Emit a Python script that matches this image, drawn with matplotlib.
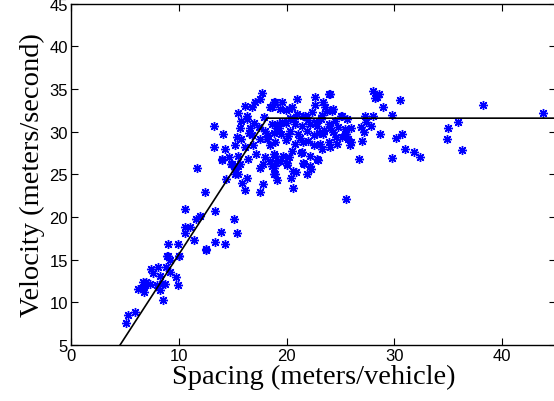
import matplotlib
matplotlib.use('Agg')
import matplotlib.pyplot as plt

# measured (spacing, velocity) samples
spacing = [
    5.1, 5.3, 5.9, 6.2, 6.6, 6.8, 6.7, 7.0, 7.3, 6.9, 7.4, 7.6, 8.1, 8.3, 8.0,
    8.4, 8.7, 8.3, 8.5, 8.8, 8.9, 9.2, 9.2, 9.7, 9.9, 10.0, 12.5,
    11.7, 12.4, 10.6, 13.4, 11.6, 12.0, 10.6, 11.0, 10.6, 11.4, 13.9, 15.4,
    15.1, 9.0, 9.9, 13.4, 14.3, 12.5, 9.0, 10.0, 14.4, 15.2, 14.8, 14.0, 15.5,
    17.5, 17.8, 16.1, 15.9, 16.3, 15.5, 15.2, 14.9, 15.7, 17.5, 17.8, 18.6,
    18.9, 19.1, 18.5,
    20.6, 20.4, 20.6, 20.9, 21.9, 21.6, 22.2, 22.9, 18.8, 18.8, 19.4, 20.0,
    25.5,
    28.0, 28.4, 28.6, 28.2, 30.5, 28.9, 27.3, 28.0, 29.8, 25.1, 25.6, 27.4,
    27.8, 26.9, 27.2, 26.0, 25.4, 28.7, 25.1, 25.7, 26.0, 25.9, 27.0, 30.7,
    30.1, 31.0, 31.8, 32.4, 29.8, 26.7,
    38.2, 43.8, 35.9, 35.0, 34.9, 36.3, 24.3, 24.0,
    22.6, 23.9, 23.4, 23.6, 22.4, 21.5, 23.3, 25.0, 18.8, 19.6, 20.2, 20.5,
    19.9, 19.4, 18.6, 19.1, 19.9, 20.8, 21.4, 22.2, 22.8, 23.9, 24.5, 25.4,
    18.8, 19.5, 20.3, 21.1, 21.9, 22.5, 23.4, 24.6, 25.5, 18.9, 19.9, 20.8,
    21.5, 22.5, 23.1, 23.9, 24.0, 23.3, 18.8, 19.7, 20.5, 21.4, 22.2, 22.8,
    21.5, 20.0, 19.2,
    17.7, 17.5, 17.1, 16.1, 16.8, 18.5, 18.9, 15.5, 16.3, 16.3, 15.8, 13.3,
    16.6, 17.4, 15.7, 14.1, 18.0, 18.6, 19.1, 15.4, 15.8, 16.8, 17.5, 18.2,
    13.3, 14.3, 15.2, 16.1, 16.9, 18.5, 14.7, 14.0, 15.5, 16.4, 17.2, 18.0,
    18.9, 19.0,
    20.3, 21.0, 21.8, 22.7, 23.5, 24.2, 20.1, 21.2, 22.0, 23.0, 24.0, 19.6,
    20.7, 21.7, 22.6, 23.7, 24.8, 20.2, 21.3, 22.3, 17.9, 18.3, 19.3, 21.0,
    22.0, 23.2, 24.3, 17.0, 16.5, 24.7,
]
velocity = [
    7.6, 8.5, 8.9, 11.6, 11.7, 11.2, 12.4, 12.4, 12.2, 12.0, 13.9, 13.4, 14.1,
    13.1, 12.0, 12.2, 12.2, 11.5, 10.3, 14.2, 15.4, 15.0, 13.6, 13.0, 12.0,
    15.4, 16.1,
    25.8, 22.9, 21.0, 20.7, 19.8, 20.1, 18.9, 18.8, 18.1, 17.3, 18.3, 18.1,
    19.8, 16.8, 16.8, 17.1, 16.8, 16.3, 15.4, 15.4, 24.5, 25.1, 26.2, 26.7,
    26.0,
    22.9, 23.9, 23.2, 24.0, 24.6, 25.1, 25.6, 26.2, 26.2, 25.8, 26.2, 26.0,
    25.1, 24.4, 26.6,
    23.4, 24.6, 25.4, 25.3, 25.0, 26.2, 26.0, 26.7, 25.1, 25.8, 26.6, 26.1,
    22.1,
    34.8, 34.1, 34.4, 34.0, 33.7, 32.9, 31.9, 31.9, 32.0, 31.9, 31.5, 31.1,
    30.7, 30.6, 30.0, 30.5, 29.8, 29.8, 29.4, 29.2, 28.8, 28.5, 28.9, 29.8,
    29.3, 28.0, 27.6, 27.1, 26.9, 26.8,
    33.2, 32.2, 31.2, 30.5, 29.2, 27.9, 32.7, 34.4,
    34.1, 34.4, 33.5, 32.9, 32.3, 31.8, 32.0, 31.9, 33.5, 33.5, 32.7, 32.9,
    32.5, 32.7, 32.9, 30.9, 31.0, 30.9, 30.7, 30.9, 30.7, 30.9, 31.3, 30.3,
    29.9, 29.8, 30.1, 29.8, 30.1, 29.6, 29.7, 29.4, 29.8, 28.8, 29.0, 28.6,
    28.8, 28.4, 28.6, 28.8, 28.2, 28.0, 27.4, 27.2, 27.8, 27.6, 27.2, 26.8,
    26.3, 26.4, 26.6,
    34.6, 33.9, 33.5, 33.0, 32.9, 32.9, 33.5, 32.2, 31.9, 31.5, 31.3, 30.7,
    30.5, 30.6, 30.4, 29.8, 30.1, 30.9, 30.5, 29.4, 29.2, 29.6, 29.2, 29.2,
    28.2, 28.0, 28.4, 28.2, 28.4, 28.4, 27.0, 26.8, 27.2, 26.8, 27.4, 27.0,
    27.2, 26.4,
    31.6, 32.1, 31.7, 31.2, 30.2, 32.4, 29.5, 29.3, 28.9, 29.9, 30.4, 31.2,
    31.5, 31.9, 33.1, 32.4, 30.6, 27.0, 27.5, 25.6, 31.7, 29.6, 30.4, 33.9,
    31.4, 31.5, 30.0, 31.0, 29.9, 28.6,
]

# piecewise linear fit through the data
fit_x = [4.55, 18.2, 45.0]
fit_y = [5.0, 31.6, 31.6]

fig = plt.figure(figsize=(5.54, 4.02), dpi=100)
ax = fig.add_axes([0.128, 0.139, 0.876, 0.849])

ax.plot(spacing, velocity, linestyle='none', marker=(8, 2, 0),
        markersize=6.5, markeredgewidth=1.0, color='#0000ff')
ax.plot(fit_x, fit_y, color='black', linewidth=1.2)

ax.set_xlim(0, 45)
ax.set_ylim(5, 45)
ax.set_xticks([0, 10, 20, 30, 40])
ax.set_yticks([5, 10, 15, 20, 25, 30, 35, 40, 45])
ax.tick_params(direction='in', top=True, right=True, length=5,
               labelsize=12, width=0.8, pad=2)
for lab in ax.get_xticklabels() + ax.get_yticklabels():
    lab.set_family('Liberation Sans')
for sp in ax.spines.values():
    sp.set_linewidth(1.0)

ax.set_xlabel('Spacing (meters/vehicle)', family='Liberation Serif',
              fontsize=20.5, labelpad=1)
ax.set_ylabel('Velocity (meters/second)', family='Liberation Serif',
              fontsize=20.5, labelpad=3)

fig.savefig('out.png', dpi=100)
